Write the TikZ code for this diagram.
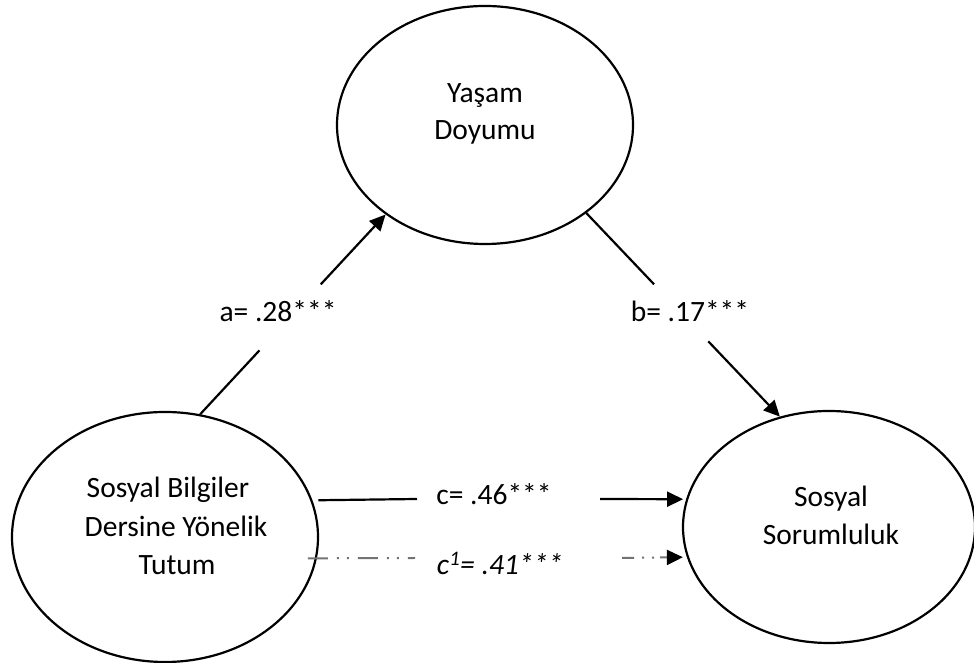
\documentclass[tikz,border=0pt]{standalone}
\usepackage{fontspec}
\setmainfont{Carlito}
\usetikzlibrary{shapes.geometric,arrows.meta,calc}
\begin{document}
\begin{tikzpicture}[x=1pt,y=1pt,
  oval/.style={draw=black,line width=2.2pt,ellipse,inner sep=0pt},
  txt/.style={anchor=base,inner sep=0pt,font=\fontsize{29.5}{38}\selectfont},
  conn/.style={draw=black,line width=2.2pt},
  arr/.style={conn,-{Triangle[length=16pt,width=15pt]}},
  dashedconn/.style={draw=black!55,line width=2pt},
  dashedarr/.style={dashedconn,-{Triangle[length=16pt,width=15pt,color=black]}}
]
\useasboundingbox (0,0) rectangle (974,663);
% ellipses
\node[oval,minimum width=296pt,minimum height=238pt] (T) at (485,538) {};
\node[oval,minimum width=306pt,minimum height=250pt] (L) at (165,126) {};
\node[oval,minimum width=292pt,minimum height=232pt] (R) at (829,136) {};
% ellipse texts
\node[txt] (t1) at (485,560) {Yaşam};
\node[txt] (t2) at (485,523) {Doyumu};
\node[txt] (l1) at (168,165) {Sosyal Bilgiler};
\node[txt] (l2) at (176,126) {Dersine Yönelik};
\node[txt] (l3) at (177,88) {Tutum};
\node[txt] (r1) at (831,156) {Sosyal};
\node[txt] (r2) at (831,118) {Sorumluluk};
% path a
\draw[conn] (L.74) -- ($(L.74)!0.32!(T.-138.6)$);
\draw[arr] ($(L.74)!0.65!(T.-138.6)$) -- (T.-138.6);
\node[txt] (la) at (278,341) {a= .28***};
% path b
\draw[conn] (T.-41.1) -- ($(T.-41.1)!0.35!(R.114.5)$);
\draw[arr] ($(T.-41.1)!0.63!(R.114.5)$) -- (R.114.5);
\node[txt] (lb) at (690,341) {b= .17***};
% path c
\coordinate (cA) at (417,164);
\coordinate (cB) at (600,164);
\draw[conn] ([xshift=6pt]L.14.6) -- (cA);
\draw[arr] (cB) -- ([xshift=-3pt]R.169);
\node[txt] (lc) at (494,158) {c= .46***};
% path c1
\coordinate (dA) at (415,105);
\coordinate (dB) at (622,105);
\draw[dashedconn,dash pattern=on 20pt off 9pt on 2pt off 8pt on 2pt off 9pt] ([xshift=-9pt]L.-8) -- (dA);
\draw[dashedarr,dash pattern=on 12pt off 8pt on 2pt off 8pt on 2pt off 6pt] (dB) -- ([xshift=-4pt]R.192);
\node[txt] (ld) at (500,88) {\textit{c\textsuperscript{1}= .41***}};
\end{tikzpicture}
\end{document}
